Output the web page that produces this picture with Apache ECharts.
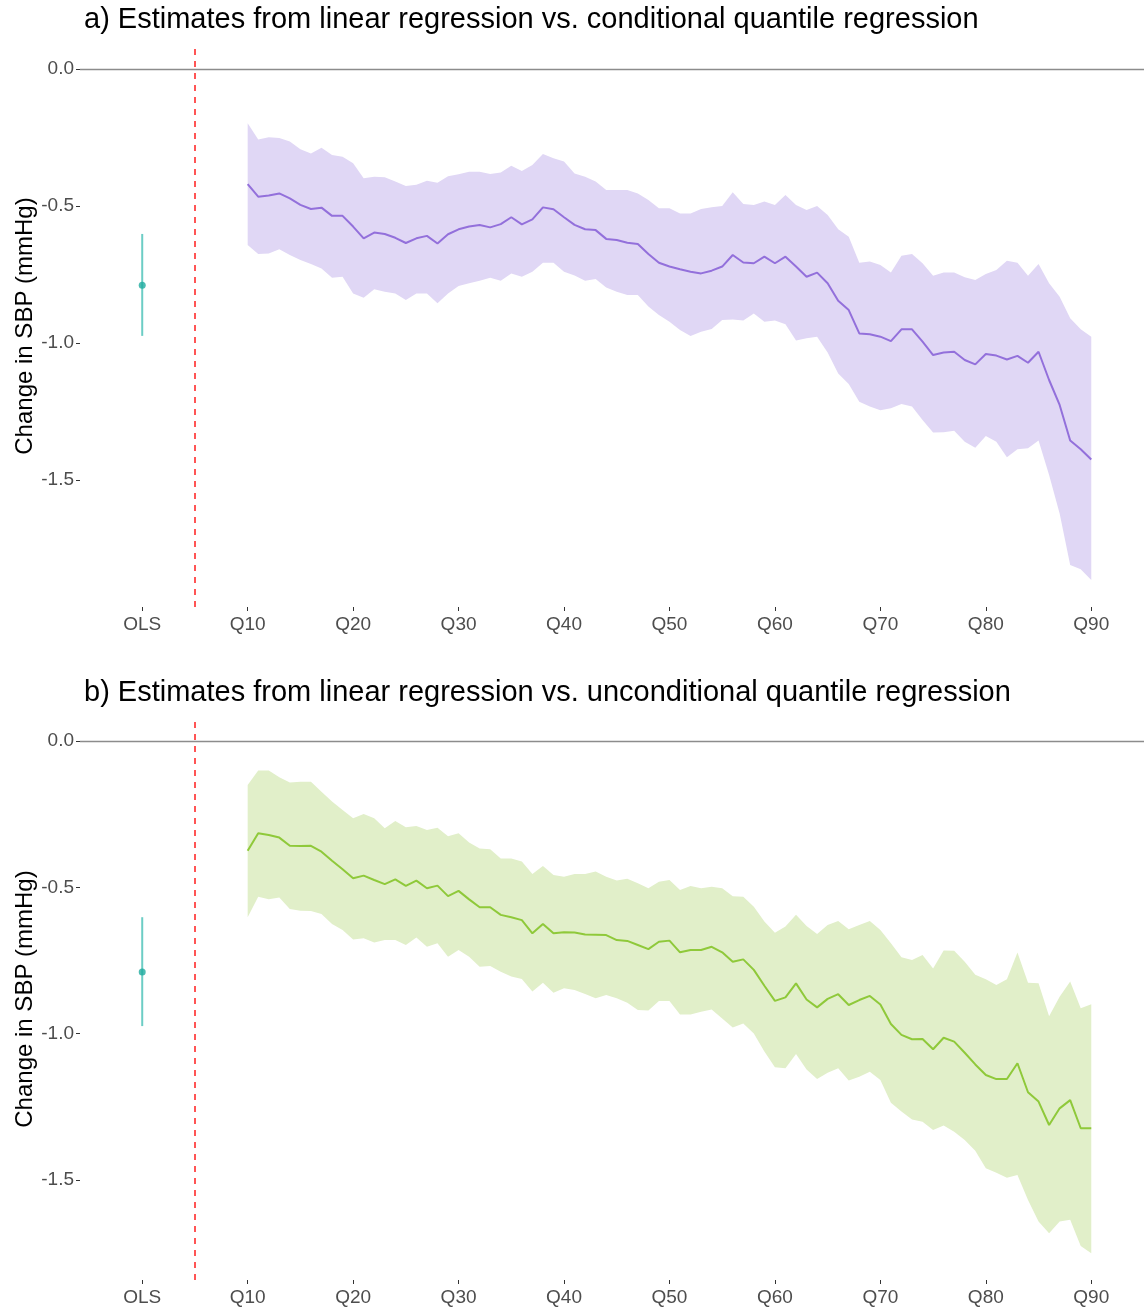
<!DOCTYPE html>
<html><head><meta charset="utf-8">
<script src="https://cdn.jsdelivr.net/npm/echarts@6/dist/echarts.min.js"></script>
<style>html,body{margin:0;padding:0;background:#fff}#c{width:1144px;height:1310px}</style>
</head><body><div id="c"></div>
<script>
// ---- data ----
const quantiles = [10,11,12,13,14,15,16,17,18,19,20,21,22,23,24,25,26,27,28,29,30,31,32,33,34,35,36,37,38,39,40,41,42,43,44,45,46,47,48,49,50,51,52,53,54,55,56,57,58,59,60,61,62,63,64,65,66,67,68,69,70,71,72,73,74,75,76,77,78,79,80,81,82,83,84,85,86,87,88,89,90];
const xTickValues = [0,10,20,30,40,50,60,70,80,90];
const xTickLabels = ['OLS','Q10','Q20','Q30','Q40','Q50','Q60','Q70','Q80','Q90'];
const yTickValues = [0,-0.5,-1.0,-1.5];
const olsPosition = 0;
const separatorPosition = 5;
const olsEstimate = -0.789;
const olsLower = -0.974;
const olsUpper = -0.602;

const condEst = [-0.420,-0.466,-0.462,-0.454,-0.472,-0.496,-0.511,-0.506,-0.536,-0.536,-0.575,-0.618,-0.597,-0.602,-0.616,-0.635,-0.618,-0.609,-0.637,-0.603,-0.585,-0.575,-0.569,-0.578,-0.566,-0.541,-0.567,-0.549,-0.505,-0.512,-0.541,-0.569,-0.585,-0.588,-0.620,-0.624,-0.634,-0.639,-0.675,-0.707,-0.721,-0.731,-0.740,-0.746,-0.736,-0.721,-0.679,-0.706,-0.709,-0.685,-0.709,-0.685,-0.721,-0.758,-0.743,-0.782,-0.846,-0.880,-0.965,-0.968,-0.977,-0.993,-0.950,-0.950,-0.995,-1.044,-1.035,-1.032,-1.062,-1.078,-1.040,-1.046,-1.060,-1.047,-1.072,-1.032,-1.135,-1.226,-1.356,-1.388,-1.425];
const condUpper = [-0.198,-0.257,-0.249,-0.252,-0.265,-0.293,-0.308,-0.287,-0.314,-0.320,-0.344,-0.399,-0.393,-0.395,-0.411,-0.427,-0.422,-0.408,-0.415,-0.391,-0.384,-0.375,-0.375,-0.383,-0.378,-0.353,-0.372,-0.350,-0.310,-0.326,-0.338,-0.381,-0.393,-0.411,-0.442,-0.442,-0.442,-0.454,-0.478,-0.508,-0.508,-0.527,-0.527,-0.511,-0.505,-0.500,-0.450,-0.493,-0.496,-0.484,-0.496,-0.460,-0.496,-0.515,-0.500,-0.533,-0.585,-0.612,-0.707,-0.703,-0.715,-0.743,-0.682,-0.675,-0.709,-0.755,-0.743,-0.743,-0.760,-0.770,-0.748,-0.734,-0.700,-0.707,-0.755,-0.712,-0.782,-0.831,-0.910,-0.950,-0.977];
const condLower = [-0.642,-0.675,-0.673,-0.658,-0.679,-0.697,-0.712,-0.728,-0.762,-0.758,-0.819,-0.835,-0.804,-0.813,-0.819,-0.843,-0.819,-0.819,-0.855,-0.819,-0.792,-0.782,-0.773,-0.762,-0.773,-0.746,-0.758,-0.740,-0.707,-0.707,-0.740,-0.754,-0.773,-0.766,-0.797,-0.813,-0.825,-0.825,-0.867,-0.898,-0.922,-0.953,-0.974,-0.959,-0.949,-0.916,-0.914,-0.918,-0.892,-0.922,-0.918,-0.932,-0.991,-0.983,-0.977,-1.035,-1.111,-1.150,-1.214,-1.232,-1.245,-1.238,-1.223,-1.232,-1.281,-1.327,-1.326,-1.320,-1.360,-1.382,-1.339,-1.360,-1.417,-1.388,-1.384,-1.356,-1.482,-1.622,-1.810,-1.826,-1.865];

const uncondEst = [-0.375,-0.315,-0.321,-0.330,-0.358,-0.359,-0.358,-0.378,-0.409,-0.438,-0.469,-0.460,-0.475,-0.489,-0.473,-0.495,-0.477,-0.503,-0.494,-0.530,-0.512,-0.541,-0.568,-0.568,-0.594,-0.602,-0.612,-0.657,-0.625,-0.657,-0.653,-0.654,-0.661,-0.662,-0.663,-0.680,-0.683,-0.697,-0.711,-0.686,-0.682,-0.722,-0.714,-0.714,-0.703,-0.722,-0.754,-0.746,-0.782,-0.836,-0.888,-0.876,-0.828,-0.883,-0.910,-0.881,-0.865,-0.902,-0.885,-0.871,-0.900,-0.967,-1.004,-1.019,-1.018,-1.053,-1.014,-1.027,-1.065,-1.105,-1.141,-1.155,-1.155,-1.101,-1.200,-1.232,-1.312,-1.255,-1.227,-1.323,-1.323];
const uncondUpper = [-0.150,-0.101,-0.101,-0.124,-0.142,-0.139,-0.139,-0.173,-0.207,-0.236,-0.264,-0.249,-0.264,-0.298,-0.273,-0.295,-0.290,-0.304,-0.296,-0.325,-0.315,-0.347,-0.367,-0.370,-0.401,-0.401,-0.412,-0.454,-0.427,-0.458,-0.464,-0.454,-0.454,-0.446,-0.464,-0.477,-0.471,-0.486,-0.503,-0.481,-0.475,-0.509,-0.495,-0.503,-0.498,-0.503,-0.530,-0.532,-0.566,-0.617,-0.655,-0.634,-0.594,-0.632,-0.659,-0.629,-0.615,-0.643,-0.629,-0.615,-0.646,-0.691,-0.739,-0.748,-0.731,-0.777,-0.716,-0.717,-0.754,-0.799,-0.814,-0.834,-0.814,-0.723,-0.826,-0.828,-0.940,-0.874,-0.822,-0.913,-0.899];
const uncondLower = [-0.602,-0.532,-0.541,-0.535,-0.574,-0.580,-0.581,-0.591,-0.625,-0.646,-0.678,-0.674,-0.688,-0.680,-0.680,-0.697,-0.671,-0.703,-0.691,-0.737,-0.714,-0.737,-0.771,-0.769,-0.788,-0.805,-0.813,-0.856,-0.826,-0.860,-0.845,-0.851,-0.864,-0.879,-0.868,-0.879,-0.894,-0.919,-0.921,-0.888,-0.888,-0.934,-0.934,-0.925,-0.917,-0.948,-0.979,-0.965,-0.999,-1.061,-1.115,-1.118,-1.069,-1.122,-1.155,-1.133,-1.118,-1.160,-1.147,-1.130,-1.158,-1.236,-1.266,-1.293,-1.301,-1.329,-1.314,-1.335,-1.363,-1.400,-1.460,-1.475,-1.492,-1.483,-1.568,-1.642,-1.682,-1.642,-1.636,-1.725,-1.750];

const titleA = 'a) Estimates from linear regression vs. conditional quantile regression';
const titleB = 'b) Estimates from linear regression vs. unconditional quantile regression';
const yName = 'Change in SBP (mmHg)';

// ---- chart ----
const FONT = '"Liberation Sans", Arial, sans-serif';
const chart = echarts.init(document.getElementById('c'), null, {renderer: 'canvas'});

function xAxisFor(gi) {
  return {
    type: 'value', gridIndex: gi, min: -5.9, max: 95, position: 'bottom',
    axisLine: {show: false, onZero: false}, splitLine: {show: false},
    axisTick: {show: true, customValues: xTickValues, length: 4, lineStyle: {color: '#333', width: 1}},
    axisLabel: {customValues: xTickValues, margin: 8, fontSize: 19, color: '#4d4d4d', fontFamily: FONT,
      formatter: v => xTickLabels[xTickValues.indexOf(v)]}
  };
}
function yAxisFor(gi, min, max) {
  return {
    type: 'value', gridIndex: gi, min: min, max: max, position: 'left',
    axisLine: {show: false, onZero: false}, splitLine: {show: false},
    axisTick: {show: true, customValues: yTickValues, length: 4, lineStyle: {color: '#333', width: 1}},
    axisLabel: {customValues: yTickValues, margin: 6, fontSize: 19, color: '#4d4d4d', fontFamily: FONT,
      formatter: v => v.toFixed(1)},
    name: yName, nameLocation: 'middle', nameGap: 43, nameMoveOverlap: false,
    nameTextStyle: {fontSize: 24, color: '#000', fontFamily: FONT}
  };
}
function bandSeries(gi, upper, lower, color) {
  return {
    type: 'custom', xAxisIndex: gi, yAxisIndex: gi, silent: true, z: 1,
    data: quantiles.map((q, i) => [q, upper[i], lower[i]]),
    encode: {x: 0, y: [1, 2]},
    renderItem: function (params, api) {
      if (params.dataIndex !== 0) return null;
      const pts = [];
      for (let i = 0; i < quantiles.length; i++) pts.push(api.coord([quantiles[i], upper[i]]));
      for (let i = quantiles.length - 1; i >= 0; i--) pts.push(api.coord([quantiles[i], lower[i]]));
      return {type: 'polygon', shape: {points: pts}, style: {fill: color, stroke: null}};
    }
  };
}
function panelSeries(gi, est, upper, lower, bandColor, lineColor) {
  return [
    bandSeries(gi, upper, lower, bandColor),
    {
      type: 'line', xAxisIndex: gi, yAxisIndex: gi, symbol: 'none', silent: true, z: 3,
      data: quantiles.map((q, i) => [q, est[i]]),
      lineStyle: {color: lineColor, width: 2},
      markLine: {
        silent: true, symbol: 'none', label: {show: false}, animation: false,
        data: [
          {yAxis: 0, lineStyle: {color: '#8c8c8c', width: 1.3, type: 'solid'}},
          {xAxis: separatorPosition, lineStyle: {color: '#ff5555', width: 2, type: [6, 6]}}
        ]
      }
    },
    {
      type: 'line', xAxisIndex: gi, yAxisIndex: gi, symbol: 'none', silent: true, z: 3,
      data: [[olsPosition, olsUpper], [olsPosition, olsLower]],
      lineStyle: {color: '#6ccdc5', width: 2}
    },
    {
      type: 'scatter', xAxisIndex: gi, yAxisIndex: gi, silent: true, z: 4,
      data: [[olsPosition, olsEstimate]], symbolSize: 7,
      itemStyle: {color: '#1fab9f'}
    }
  ];
}

chart.setOption({
  animation: false,
  backgroundColor: '#fff',
  title: [
    {text: titleA, left: 84, top: 5, padding: 0, textStyle: {fontSize: 29, fontWeight: 'normal', color: '#000', fontFamily: FONT}},
    {text: titleB, left: 84, top: 678, padding: 0, textStyle: {fontSize: 29, fontWeight: 'normal', color: '#000', fontFamily: FONT}}
  ],
  grid: [
    {left: 80, right: 0, top: 45, height: 562, outerBoundsMode: 'none', containLabel: false},
    {left: 80, right: 0, top: 718, height: 562, outerBoundsMode: 'none', containLabel: false}
  ],
  xAxis: [xAxisFor(0), xAxisFor(1)],
  yAxis: [yAxisFor(0, -1.9635, 0.0876), yAxisFor(1, -1.8415, 0.0786)],
  series: [].concat(
    panelSeries(0, condEst, condUpper, condLower, '#e0d7f5', '#9370db'),
    panelSeries(1, uncondEst, uncondUpper, uncondLower, '#e1efc9', '#8fc93a')
  )
});
</script>
</body></html>
